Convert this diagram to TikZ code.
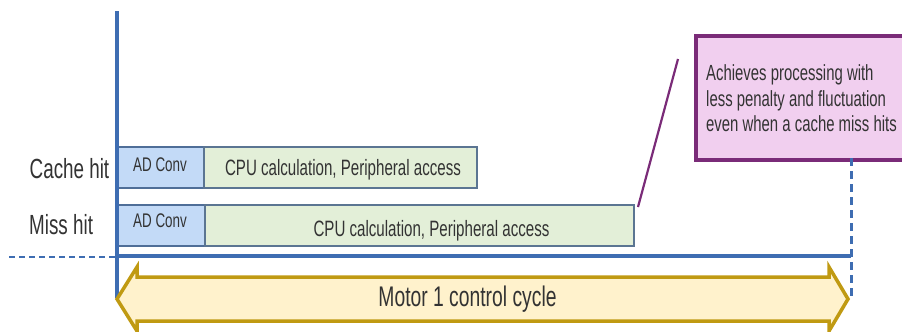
\documentclass[tikz,border=0pt]{standalone}
\usepackage{fontspec}
\setmainfont{Liberation Sans}[FakeStretch=0.68]
\definecolor{axisblue}{HTML}{3E6DB2}
\definecolor{adfill}{HTML}{C3DAF7}
\definecolor{adborder}{HTML}{4F6E98}
\definecolor{cpufill}{HTML}{E3EFD8}
\definecolor{cpuborder}{HTML}{5B7592}
\definecolor{arrfill}{HTML}{FFF2CC}
\definecolor{arrdraw}{HTML}{C09A12}
\definecolor{callfill}{HTML}{F1CFEF}
\definecolor{calldraw}{HTML}{7A2B78}
\definecolor{txt}{HTML}{333333}
\begin{document}
\begin{tikzpicture}[x=1bp,y=-1bp,
  axisline/.style={draw=axisblue,line width=3.5bp},
  axisdash/.style={draw=axisblue,line width=3bp,dash pattern=on 8bp off 5bp},
  leftdash/.style={draw=axisblue,line width=1.6bp,dash pattern=on 6bp off 4bp},
  adbox/.style={draw=adborder,fill=adfill,line width=1.8bp,inner sep=0pt,anchor=north west,minimum height=41bp},
  cpubox/.style={draw=cpuborder,fill=cpufill,line width=1.8bp,inner sep=0pt,anchor=north west,minimum height=41bp},
  rowlbl/.style={font=\fontsize{27.8}{30}\selectfont,text=txt,inner sep=0pt,anchor=base west},
  adtxt/.style={font=\fontsize{19.8}{22}\selectfont,text=txt,inner sep=0pt,anchor=base},
  cputxt/.style={font=\fontsize{22.3}{24}\selectfont,text=txt,inner sep=0pt,anchor=base},
  calltxt/.style={font=\fontsize{22}{25}\selectfont,text=txt,inner sep=0pt,anchor=base west},
  cyclearrow/.style={draw=arrdraw,fill=arrfill,line width=3.5bp,line join=miter},
  callbox/.style={draw=calldraw,fill=callfill,line width=3.5bp,inner sep=0pt,anchor=north west},
  callline/.style={draw=calldraw,line width=2.2bp}
]
\useasboundingbox (0,0) rectangle (902,331);
\clip (0,0) rectangle (902,331);

% callout
\node[callbox,minimum width=215bp,minimum height=124bp] (cb) at (694,34) {};
\node[calltxt] (ct1) at (706,80.7) {Achieves processing with};
\node[calltxt] (ct2) at (706,106.2) {less penalty and fluctuation};
\node[calltxt] (ct3) at (706,131.7) {even when a cache miss hits};

% rows
\node[adbox,minimum width=86bp] (ad1) at (117,146) {};
\node[cpubox,minimum width=273bp] (cpu1) at (203,146) {};
\node[adbox,minimum width=87bp] (ad2) at (117,204) {};
\node[cpubox,minimum width=429bp] (cpu2) at (204,204) {};

\node[adtxt] (adt1) at (160,171.7) {AD Conv};
\node[adtxt] (adt2) at (160,227.3) {AD Conv};
\node[cputxt] (ct1b) at (343,175) {CPU calculation, Peripheral access};
\node[cputxt] (ct2b) at (431.5,236) {CPU calculation, Peripheral access};

\node[rowlbl] (lhit) at (29.5,178) {Cache hit};
\node[rowlbl] (lmiss) at (29,234.3) {Miss hit};

% axes
\draw[axisline] (117,11) -- (117,298);
\draw[axisline] (117,256) -- (851,256);
\draw[leftdash] (9,257) -- (117,257);
\draw[axisdash] (851,158) -- (851,298);

% cycle arrow
\draw[cyclearrow] (117,299) -- (137,267) -- (137,277) -- (829,277) -- (829,267)
  -- (848,299) -- (829,331) -- (829,321) -- (137,321) -- (137,331) -- cycle;
\node[font=\fontsize{28.5}{30}\selectfont,text=txt,inner sep=0pt,anchor=base] (motor) at (467.5,306) {Motor 1 control cycle};

% connector
\coordinate (pA) at (678,59);
\coordinate (pB) at (638,207);
\draw[callline] (pA) -- (pB);
\end{tikzpicture}
\end{document}
